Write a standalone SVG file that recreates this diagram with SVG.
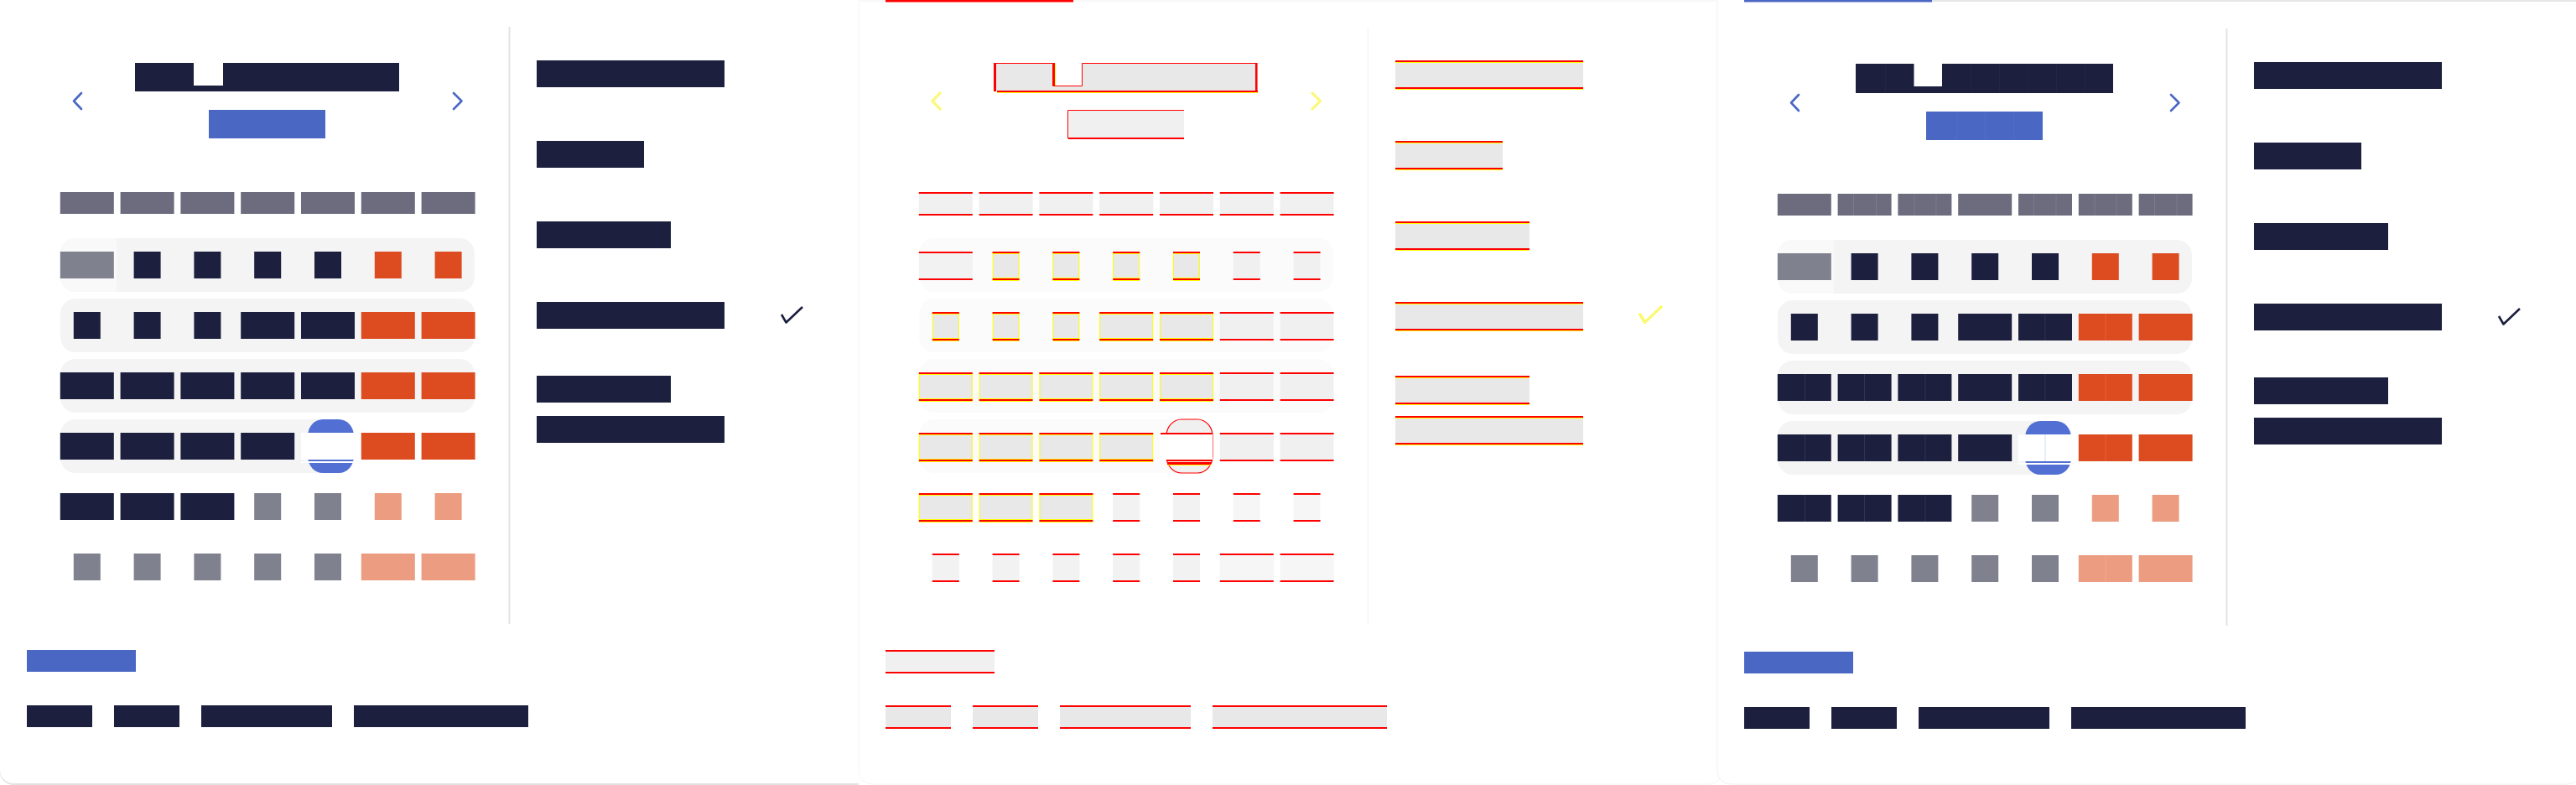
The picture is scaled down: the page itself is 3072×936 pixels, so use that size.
<svg xmlns="http://www.w3.org/2000/svg" xmlns:xlink="http://www.w3.org/1999/xlink" width="3072" height="936" viewBox="0 0 3072 936">
<style>
.d{fill:#1c1f3d}
.g{fill:#6c6c7e}
.m{fill:#80818f}
.o{fill:#dd4b20}
.lo{fill:#ec9c80}
.b{fill:#4b67c4}
.pl{fill:#f4f4f4}
.chev{fill:none;stroke:#4b67c4;stroke-width:2.6;stroke-linecap:round;stroke-linejoin:round}
.mchev{fill:none;stroke:#ffff00;stroke-width:2.8;stroke-linecap:round;stroke-linejoin:round}
.mchevi{fill:none;stroke:#f4f0d8;stroke-width:1.2;stroke-linecap:round;stroke-linejoin:round}
.r{fill:#ff0000}
.y{fill:#ffff00}
.ld{fill:#2f3250}
.ldt{fill:#23263f}
.lg{fill:#7a7b8c}
.lor{fill:#e3633d}
.llo{fill:#f0aa92}
.lb{fill:#516dc8}
</style>
<defs>
  <g id="mw"><rect width="64" height="32"/><rect width="64" height="2" fill="#ff0000"/><rect y="32" width="64" height="2" fill="#ff0000"/></g>
  <g id="mwy"><rect x="0.5" y="0.5" width="63" height="31" stroke="#ffff00" stroke-width="1"/><rect width="64" height="2" fill="#ff0000"/><rect y="2" width="64" height="1" fill="#ffff00"/><rect y="32" width="64" height="2" fill="#ff0000"/><rect y="34" width="64" height="1" fill="#ffff00"/></g>
  <g id="mn"><rect width="32" height="32"/><rect width="32" height="2" fill="#ff0000"/><rect y="32" width="32" height="2" fill="#ff0000"/></g>
  <g id="mny"><rect x="0.5" y="0.5" width="31" height="31" stroke="#ffff00" stroke-width="1"/><rect width="32" height="2" fill="#ff0000"/><rect y="2" width="32" height="1" fill="#ffff00"/><rect y="32" width="32" height="2" fill="#ff0000"/><rect y="34" width="32" height="1" fill="#ffff00"/></g>
  <g id="mh"><rect width="64" height="26" fill="#f0f0f0"/><rect width="64" height="2" fill="#ff0000"/><rect y="26" width="64" height="2" fill="#ff0000"/></g>

  <g id="cal">
    <path class="chev" d="M97,111 L88,120.5 L97,130"/>
    <path class="chev" d="M541,111 L550.5,120.5 L541,130"/>
    <rect class="b" x="249" y="131" width="139" height="34"/>
    <rect x="606.5" y="32" width="2" height="712" fill="#e3e3e3"/>
    <rect class="d" x="640" y="72" width="224" height="32"/>
    <rect class="d" x="640" y="168" width="128" height="32"/>
    <rect class="d" x="640" y="264" width="160" height="32"/>
    <rect class="d" x="640" y="360" width="224" height="32"/>
    <rect class="d" x="640" y="448" width="160" height="32"/>
    <rect class="d" x="640" y="496" width="224" height="32"/>
    <path d="M932,375 L937.5,384.5 L957,366" fill="none" stroke="#1c1f3d" stroke-width="2.6" stroke-linejoin="round"/>
    <g>
      <rect class="g" x="71.8" y="229" width="64" height="26"/>
      <rect class="g" x="143.6" y="229" width="64" height="26"/>
      <rect class="g" x="215.4" y="229" width="64" height="26"/>
      <rect class="g" x="287.2" y="229" width="64" height="26"/>
      <rect class="g" x="359" y="229" width="64" height="26"/>
      <rect class="g" x="430.8" y="229" width="64" height="26"/>
      <rect class="g" x="502.6" y="229" width="64" height="26"/>
    </g>
    <rect class="pl" x="72" y="284" width="494" height="64" rx="18"/>
    <path d="M139,284 H90 A18,18 0 0 0 72,302 V330 A18,18 0 0 0 90,348 H139 Z" fill="#f9f9f9"/>
    <rect class="pl" x="72" y="356" width="494" height="64" rx="18"/>
    <rect class="pl" x="72" y="428" width="494" height="64" rx="18"/>
    <rect class="pl" x="72" y="500" width="340" height="64" rx="18"/>
    <!-- row 1 -->
    <rect class="m" x="71.8" y="300" width="64" height="32"/>
    <rect class="d" x="159.6" y="300" width="32" height="32"/>
    <rect class="d" x="231.4" y="300" width="32" height="32"/>
    <rect class="d" x="303.2" y="300" width="32" height="32"/>
    <rect class="d" x="375" y="300" width="32" height="32"/>
    <rect class="o" x="446.8" y="300" width="32" height="32"/>
    <rect class="o" x="518.6" y="300" width="32" height="32"/>
    <!-- row 2 -->
    <rect class="d" x="87.8" y="372" width="32" height="32"/>
    <rect class="d" x="159.6" y="372" width="32" height="32"/>
    <rect class="d" x="231.4" y="372" width="32" height="32"/>
    <rect class="d" x="287.2" y="372" width="64" height="32"/>
    <rect class="d" x="359" y="372" width="64" height="32"/>
    <rect class="o" x="430.8" y="372" width="64" height="32"/>
    <rect class="o" x="502.6" y="372" width="64" height="32"/>
    <!-- row 3 -->
    <rect class="d" x="71.8" y="444" width="64" height="32"/>
    <rect class="d" x="143.6" y="444" width="64" height="32"/>
    <rect class="d" x="215.4" y="444" width="64" height="32"/>
    <rect class="d" x="287.2" y="444" width="64" height="32"/>
    <rect class="d" x="359" y="444" width="64" height="32"/>
    <rect class="o" x="430.8" y="444" width="64" height="32"/>
    <rect class="o" x="502.6" y="444" width="64" height="32"/>
    <!-- row 4 -->
    <rect class="d" x="71.8" y="516" width="64" height="32"/>
    <rect class="d" x="143.6" y="516" width="64" height="32"/>
    <rect class="d" x="215.4" y="516" width="64" height="32"/>
    <rect class="d" x="287.2" y="516" width="64" height="32"/>
    <rect x="367" y="500" width="55" height="64" rx="18" ry="20" fill="#5270d4"/>
    <rect x="359" y="516" width="63" height="32" fill="#ffffff"/>
    <rect x="359" y="550" width="63" height="2" fill="#ffffff"/>
    <rect class="o" x="430.8" y="516" width="64" height="32"/>
    <rect class="o" x="502.6" y="516" width="64" height="32"/>
    <!-- row 5 -->
    <rect class="d" x="71.8" y="588" width="64" height="32"/>
    <rect class="d" x="143.6" y="588" width="64" height="32"/>
    <rect class="d" x="215.4" y="588" width="64" height="32"/>
    <rect class="m" x="303.2" y="588" width="32" height="32"/>
    <rect class="m" x="375" y="588" width="32" height="32"/>
    <rect class="lo" x="446.8" y="588" width="32" height="32"/>
    <rect class="lo" x="518.6" y="588" width="32" height="32"/>
    <!-- row 6 -->
    <rect class="m" x="87.8" y="660" width="32" height="32"/>
    <rect class="m" x="159.6" y="660" width="32" height="32"/>
    <rect class="m" x="231.4" y="660" width="32" height="32"/>
    <rect class="m" x="303.2" y="660" width="32" height="32"/>
    <rect class="m" x="375" y="660" width="32" height="32"/>
    <rect class="lo" x="430.8" y="660" width="64" height="32"/>
    <rect class="lo" x="502.6" y="660" width="64" height="32"/>
    <!-- footer -->
    <rect class="b" x="32" y="775" width="130" height="26"/>
    <rect class="d" x="32" y="841" width="78" height="26"/>
    <rect class="d" x="136" y="841" width="78" height="26"/>
    <rect class="d" x="240" y="841" width="156" height="26"/>
    <rect class="d" x="422" y="841" width="208" height="26"/>
  </g>
</defs>

<!-- cards -->
<path d="M0,0 H1024 V936 H16 A16,16 0 0 1 0,920 Z" fill="#e2e2e2"/>
<path d="M0,0 H1024 V934 H16 A16,16 0 0 1 0,918 Z" fill="#ffffff"/>
<rect x="1024" y="-20" width="1030" height="955" rx="16" fill="#ffffff" stroke="#f5f5f5" stroke-width="1"/>
<rect x="2048" y="-20" width="1030" height="955" rx="16" fill="#ffffff" stroke="#f1f1f1" stroke-width="1"/>
<rect x="1024" y="0" width="1024" height="2" fill="#f8f8f8"/>
<rect x="1056" y="0" width="224" height="2.5" fill="#ff0000"/>
<rect x="2304" y="0" width="768" height="2" fill="#e6e6e6"/>
<rect x="2080" y="0" width="224" height="2.5" fill="#4b67c4"/>

<!-- left panel -->
<g id="panel-left">
  <path class="d" d="M161,75 H231 V102 H266 V75 H476 V109 H161 Z"/>
  <use xlink:href="#cal" href="#cal"/>
</g>

<!-- middle panel (outline view) -->
<g id="panel-middle" transform="translate(1024,0)">
  <path d="M161,75 H231 V102 H266 V75 H476 V109 H161 Z" fill="#e8e8e8"/>
  <path d="M161.5,109 V75.5 H231.5 V102.5 H266.5 V75.5 H475" fill="none" stroke="#ff0000" stroke-width="1"/>
  <rect class="r" x="161" y="75" width="3" height="34"/>
  <rect class="r" x="231" y="75" width="3" height="27"/>
  <rect class="y" x="234" y="76" width="1" height="26"/>
  <rect class="r" x="473" y="75" width="2.5" height="34"/>
  <rect class="r" x="165" y="108" width="311" height="2"/>
  <rect class="y" x="165" y="110" width="311" height="1"/>
  <path class="mchev" d="M97,111 L88,120.5 L97,130"/>
  <path class="mchevi" d="M97,111 L88,120.5 L97,130"/>
  <path class="mchev" d="M541,111 L550.5,120.5 L541,130"/>
  <path class="mchevi" d="M541,111 L550.5,120.5 L541,130"/>
  <rect x="249" y="131" width="139" height="34" fill="#f0f0f0"/>
  <path d="M249.5,165 V131.5 H388" fill="none" stroke="#ff0000" stroke-width="1"/>
  <rect class="r" x="250" y="164" width="138" height="2"/>
  <rect x="606.5" y="32" width="2" height="712" fill="#f7f7f7"/>
  <g>
    <rect x="640" y="72" width="224" height="32" fill="#e8e8e8"/><rect class="r" x="640" y="72" width="224" height="2"/><rect class="y" x="640" y="74" width="224" height="1"/><rect class="r" x="640" y="104" width="224" height="2"/><rect class="y" x="640" y="106" width="224" height="1"/>
    <rect x="640" y="168" width="128" height="32" fill="#e8e8e8"/><rect class="r" x="640" y="168" width="128" height="2"/><rect class="y" x="640" y="170" width="128" height="1"/><rect class="r" x="640" y="200" width="128" height="2"/><rect class="y" x="640" y="202" width="128" height="1"/>
    <rect x="640" y="264" width="160" height="32" fill="#e8e8e8"/><rect class="r" x="640" y="264" width="160" height="2"/><rect class="y" x="640" y="266" width="160" height="1"/><rect class="r" x="640" y="296" width="160" height="2"/><rect class="y" x="640" y="298" width="160" height="1"/>
    <rect x="640" y="360" width="224" height="32" fill="#e8e8e8"/><rect class="r" x="640" y="360" width="224" height="2"/><rect class="y" x="640" y="362" width="224" height="1"/><rect class="r" x="640" y="392" width="224" height="2"/><rect class="y" x="640" y="394" width="224" height="1"/>
    <rect x="640" y="448" width="160" height="32" fill="#e8e8e8"/><rect class="r" x="640" y="448" width="160" height="2"/><rect class="y" x="640" y="450" width="160" height="1"/><rect class="r" x="640" y="480" width="160" height="2"/><rect class="y" x="640" y="482" width="160" height="1"/>
    <rect x="640" y="496" width="224" height="32" fill="#e8e8e8"/><rect class="r" x="640" y="496" width="224" height="2"/><rect class="y" x="640" y="498" width="224" height="1"/><rect class="r" x="640" y="528" width="224" height="2"/><rect class="y" x="640" y="530" width="224" height="1"/>
  </g>
  <path d="M932,375 L937.5,384.5 L957,366" fill="none" stroke="#ffff00" stroke-width="3" stroke-linejoin="round" stroke-linecap="round"/>
  <path d="M932,375 L937.5,384.5 L957,366" fill="none" stroke="#f4f0d8" stroke-width="1.1" stroke-linejoin="round"/>
  <use href="#mh" x="71.8" y="229"/>
  <use href="#mh" x="143.6" y="229"/>
  <use href="#mh" x="215.4" y="229"/>
  <use href="#mh" x="287.2" y="229"/>
  <use href="#mh" x="359" y="229"/>
  <use href="#mh" x="430.8" y="229"/>
  <use href="#mh" x="502.6" y="229"/>
  <rect x="72" y="284" width="494" height="64" rx="18" fill="#fbfbfb"/>
  <rect x="72" y="356" width="494" height="64" rx="18" fill="#fbfbfb"/>
  <rect x="72" y="428" width="494" height="64" rx="18" fill="#fbfbfb"/>
  <rect x="72" y="500" width="340" height="64" rx="18" fill="#fbfbfb"/>
  <!-- row 1 -->
  <use href="#mw" x="71.8" y="300" fill="#f2f2f2"/>
  <use href="#mny" x="159.6" y="300" fill="#e8e8e8"/>
  <use href="#mny" x="231.4" y="300" fill="#e8e8e8"/>
  <use href="#mny" x="303.2" y="300" fill="#e8e8e8"/>
  <use href="#mny" x="375" y="300" fill="#e8e8e8"/>
  <use href="#mn" x="446.8" y="300" fill="#f0f0f0"/>
  <use href="#mn" x="518.6" y="300" fill="#f0f0f0"/>
  <!-- row 2 -->
  <use href="#mny" x="87.8" y="372" fill="#e8e8e8"/>
  <use href="#mny" x="159.6" y="372" fill="#e8e8e8"/>
  <use href="#mny" x="231.4" y="372" fill="#e8e8e8"/>
  <use href="#mwy" x="287.2" y="372" fill="#e8e8e8"/>
  <use href="#mwy" x="359" y="372" fill="#e8e8e8"/>
  <use href="#mw" x="430.8" y="372" fill="#f0f0f0"/>
  <use href="#mw" x="502.6" y="372" fill="#f0f0f0"/>
  <!-- row 3 -->
  <use href="#mwy" x="71.8" y="444" fill="#e8e8e8"/>
  <use href="#mwy" x="143.6" y="444" fill="#e8e8e8"/>
  <use href="#mwy" x="215.4" y="444" fill="#e8e8e8"/>
  <use href="#mwy" x="287.2" y="444" fill="#e8e8e8"/>
  <use href="#mwy" x="359" y="444" fill="#e8e8e8"/>
  <use href="#mw" x="430.8" y="444" fill="#f0f0f0"/>
  <use href="#mw" x="502.6" y="444" fill="#f0f0f0"/>
  <!-- row 4 -->
  <use href="#mwy" x="71.8" y="516" fill="#e8e8e8"/>
  <use href="#mwy" x="143.6" y="516" fill="#e8e8e8"/>
  <use href="#mwy" x="215.4" y="516" fill="#e8e8e8"/>
  <use href="#mwy" x="287.2" y="516" fill="#e8e8e8"/>
  <rect x="367" y="500" width="55" height="64" rx="18" ry="20" fill="#f0f0f0" stroke="#ff0000" stroke-width="1.2"/>
  <rect x="359" y="518" width="63" height="30" fill="#ffffff"/>
  <rect class="r" x="360" y="516" width="62" height="2"/>
  <rect class="r" x="367" y="548" width="55" height="2"/>
  <rect class="r" x="368" y="551" width="52" height="3"/>
  <rect class="y" x="368" y="554" width="52" height="1"/>
  <use href="#mw" x="430.8" y="516" fill="#f0f0f0"/>
  <use href="#mw" x="502.6" y="516" fill="#f0f0f0"/>
  <!-- row 5 -->
  <use href="#mwy" x="71.8" y="588" fill="#e8e8e8"/>
  <use href="#mwy" x="143.6" y="588" fill="#e8e8e8"/>
  <use href="#mwy" x="215.4" y="588" fill="#e8e8e8"/>
  <use href="#mn" x="303.2" y="588" fill="#f2f2f2"/>
  <use href="#mn" x="375" y="588" fill="#f2f2f2"/>
  <use href="#mn" x="446.8" y="588" fill="#f6f6f6"/>
  <use href="#mn" x="518.6" y="588" fill="#f6f6f6"/>
  <!-- row 6 -->
  <use href="#mn" x="87.8" y="660" fill="#f2f2f2"/>
  <use href="#mn" x="159.6" y="660" fill="#f2f2f2"/>
  <use href="#mn" x="231.4" y="660" fill="#f2f2f2"/>
  <use href="#mn" x="303.2" y="660" fill="#f2f2f2"/>
  <use href="#mn" x="375" y="660" fill="#f2f2f2"/>
  <use href="#mw" x="430.8" y="660" fill="#f6f6f6"/>
  <use href="#mw" x="502.6" y="660" fill="#f6f6f6"/>
  <!-- footer -->
  <rect x="32" y="775" width="130" height="26" fill="#f0f0f0"/><rect class="r" x="32" y="775" width="130" height="2"/><rect class="r" x="32" y="801" width="130" height="2"/>
  <rect x="32" y="841" width="78" height="26" fill="#e8e8e8"/><rect class="r" x="32" y="841" width="78" height="2"/><rect class="r" x="32" y="867" width="78" height="2"/>
  <rect x="136" y="841" width="78" height="26" fill="#e8e8e8"/><rect class="r" x="136" y="841" width="78" height="2"/><rect class="r" x="136" y="867" width="78" height="2"/>
  <rect x="240" y="841" width="156" height="26" fill="#e8e8e8"/><rect class="r" x="240" y="841" width="156" height="2"/><rect class="r" x="240" y="867" width="156" height="2"/>
  <rect x="422" y="841" width="208" height="26" fill="#e8e8e8"/><rect class="r" x="422" y="841" width="208" height="2"/><rect class="r" x="422" y="867" width="208" height="2"/>
</g>

<!-- right panel -->
<g id="panel-right">
  <path class="d" d="M2213,76 H2282.5 V103 H2316 V76 H2520 V111 H2213 Z"/>
  <use href="#cal" transform="translate(2048,2)"/>
  <g id="glyph-seams">
    <rect class="ldt" x="2248" y="76" width="1" height="35"/>
    <rect class="ldt" x="2350" y="76" width="1" height="35"/>
    <rect class="ldt" x="2384" y="76" width="1" height="35"/>
    <rect class="ldt" x="2418" y="76" width="1" height="35"/>
    <rect class="ldt" x="2452" y="76" width="1" height="35"/>
    <rect class="ldt" x="2486" y="76" width="1" height="35"/>
    <rect class="lb" x="2333" y="133" width="1" height="34"/>
    <rect class="lb" x="2367" y="133" width="1" height="34"/>
    <rect class="lb" x="2401" y="133" width="1" height="34"/>
    <rect class="lg" x="2210" y="231" width="1" height="26"/>
    <rect class="lg" x="2237" y="231" width="1" height="26"/>
    <rect class="lg" x="2282.5" y="231" width="1" height="26"/>
    <rect class="lg" x="2308.5" y="231" width="1" height="26"/>
    <rect class="lg" x="2425" y="231" width="1" height="26"/>
    <rect class="lg" x="2451.5" y="231" width="1" height="26"/>
    <rect class="lg" x="2497.5" y="231" width="1" height="26"/>
    <rect class="lg" x="2523.5" y="231" width="1" height="26"/>
    <rect class="lg" x="2569" y="231" width="1" height="26"/>
    <rect class="lg" x="2595.5" y="231" width="1" height="26"/>
    <rect class="ld" x="2438.5" y="374" width="1" height="32"/>
    <rect class="lor" x="2510.5" y="374" width="1" height="32"/>
    <rect class="ld" x="2152" y="446" width="1" height="32"/>
    <rect class="ld" x="2223" y="446" width="1" height="32"/>
    <rect class="ld" x="2295.5" y="446" width="1" height="32"/>
    <rect class="ld" x="2438.5" y="446" width="1" height="32"/>
    <rect class="lor" x="2510.5" y="446" width="1" height="32"/>
    <rect class="ld" x="2152" y="518" width="1" height="32"/>
    <rect class="ld" x="2223" y="518" width="1" height="32"/>
    <rect class="ld" x="2295.5" y="518" width="1" height="32"/>
    <rect x="2438.5" y="518" width="1" height="32" fill="#d3dbf3"/>
    <rect class="lor" x="2510.5" y="518" width="1" height="32"/>
    <rect class="ld" x="2152" y="590" width="1" height="32"/>
    <rect class="ld" x="2223" y="590" width="1" height="32"/>
    <rect class="ld" x="2295.5" y="590" width="1" height="32"/>
    <rect class="llo" x="2510.5" y="662" width="1" height="32"/>
  </g>
</g>
</svg>
